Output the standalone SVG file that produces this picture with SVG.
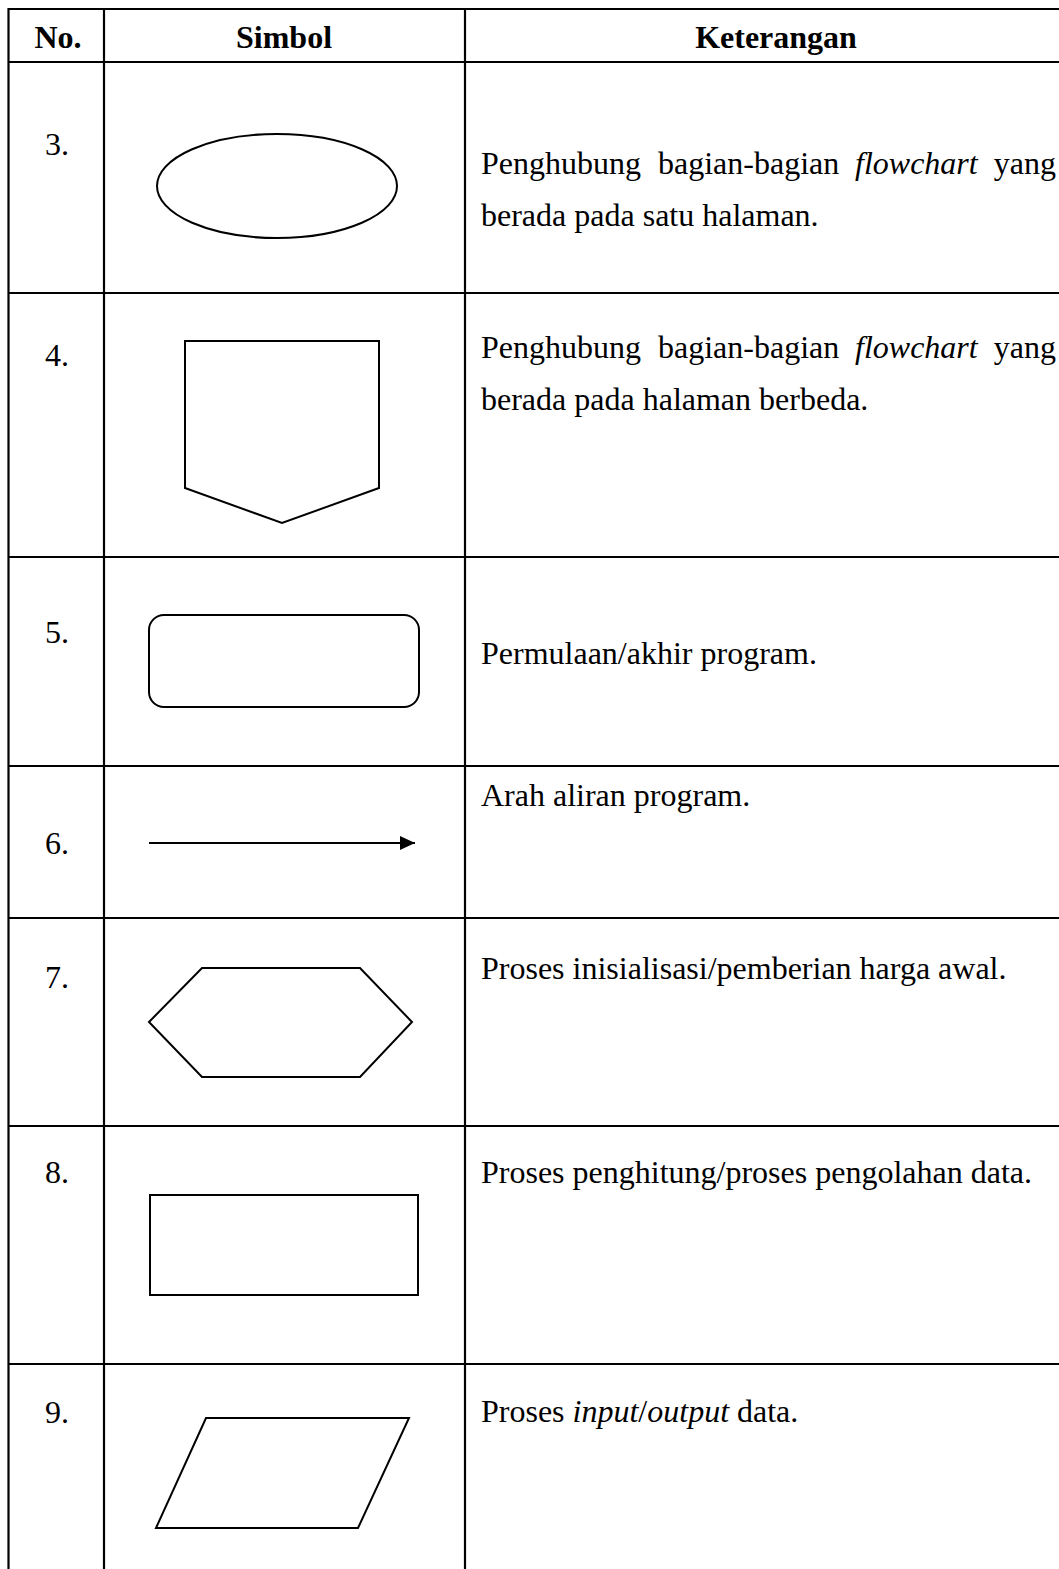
<svg xmlns="http://www.w3.org/2000/svg" width="1059" height="1569" viewBox="0 0 1059 1569">
<style>
.g{stroke:#000;stroke-width:2.2;fill:none}
.s{stroke:#000;stroke-width:2;fill:none}
text{font-family:"Liberation Serif","Times New Roman",serif;font-size:32px;fill:#000}
.h{font-weight:bold;text-anchor:middle}
.n{text-anchor:middle}
.i{font-style:italic}
.e{text-anchor:end}
</style>
<defs>
<marker id="ah" markerWidth="16" markerHeight="14" refX="15" refY="7" orient="auto" markerUnits="userSpaceOnUse">
<path d="M0,0 L15,7 L0,14 Z" fill="#000"/>
</marker>
</defs>
<rect width="1059" height="1569" fill="#fff"/>
<g id="grid">
<line class="g" x1="8.5" y1="9" x2="1059" y2="9"/>
<line class="g" x1="8.5" y1="62" x2="1059" y2="62"/>
<line class="g" x1="8.5" y1="293" x2="1059" y2="293"/>
<line class="g" x1="8.5" y1="557" x2="1059" y2="557"/>
<line class="g" x1="8.5" y1="766" x2="1059" y2="766"/>
<line class="g" x1="8.5" y1="918" x2="1059" y2="918"/>
<line class="g" x1="8.5" y1="1126" x2="1059" y2="1126"/>
<line class="g" x1="8.5" y1="1364" x2="1059" y2="1364"/>
<line class="g" x1="8.5" y1="8" x2="8.5" y2="1569"/>
<line class="g" x1="104" y1="8" x2="104" y2="1569"/>
<line class="g" x1="465" y1="8" x2="465" y2="1569"/>
</g>
<g id="header">
<text class="h" x="58" y="48">No.</text>
<text class="h" x="284" y="48">Simbol</text>
<text class="h" x="776" y="48">Keterangan</text>
</g>
<g id="row3">
<text class="n" x="57" y="155">3.</text>
<ellipse class="s" cx="277" cy="186" rx="120" ry="52"/>
<text x="481" y="174">Penghubung</text>
<text x="658" y="174">bagian-bagian</text>
<text x="855" y="174" class="i">flowchart</text>
<text x="1056" y="174" class="e">yang</text>
<text x="481" y="226">berada pada satu halaman.</text>
</g>
<g id="row4">
<text class="n" x="57" y="366">4.</text>
<polygon class="s" points="185,341 379,341 379,488 282,523 185,488"/>
<text x="481" y="358">Penghubung</text>
<text x="658" y="358">bagian-bagian</text>
<text x="855" y="358" class="i">flowchart</text>
<text x="1056" y="358" class="e">yang</text>
<text x="481" y="410">berada pada halaman berbeda.</text>
</g>
<g id="row5">
<text class="n" x="57" y="643">5.</text>
<rect class="s" x="149" y="615" width="270" height="92" rx="15"/>
<text x="481" y="664">Permulaan/akhir program.</text>
</g>
<g id="row6">
<text class="n" x="57" y="854">6.</text>
<text x="481" y="806">Arah aliran program.</text>
</g>
<g id="row7">
<text class="n" x="57" y="988">7.</text>
<polygon class="s" points="149,1022 202,968 360,968 412,1022 360,1077 202,1077"/>
<text x="481" y="979">Proses inisialisasi/pemberian harga awal.</text>
</g>
<g id="row8">
<text class="n" x="57" y="1183">8.</text>
<rect class="s" x="150" y="1195" width="268" height="100"/>
<text x="481" y="1183">Proses penghitung/proses pengolahan data.</text>
</g>
<g id="row9">
<text class="n" x="57" y="1423">9.</text>
<polygon class="s" points="206,1418 409,1418 358,1528 156,1528"/>
<text x="481" y="1422">Proses <tspan class="i">input</tspan>/<tspan class="i">output</tspan> data.</text>
</g>
<g id="connectors">
<line class="s" x1="149" y1="843" x2="415" y2="843" marker-end="url(#ah)"/>
</g>
</svg>
